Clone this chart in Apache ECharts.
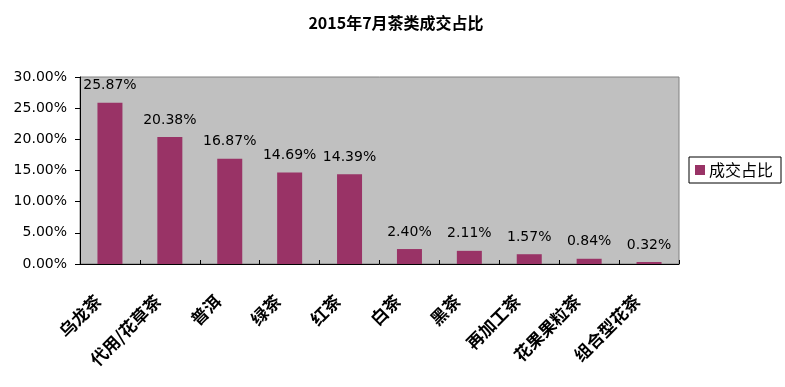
<!DOCTYPE html>
<html><head><meta charset="utf-8">
<script src="https://cdn.jsdelivr.net/npm/echarts@6/dist/echarts.min.js"></script>
<style>html,body{margin:0;padding:0;background:#fff}#c{width:785px;height:387px}</style>
</head><body><div id="c"></div>
<script>
const titleText = '2015年7月茶类成交占比';
const seriesName = '成交占比';
const categories = ['乌龙茶','代用/花草茶','普洱','绿茶','红茶','白茶','黑茶','再加工茶','花果果粒茶','组合型花茶'];
const shares = [25.87, 20.38, 16.87, 14.69, 14.39, 2.40, 2.11, 1.57, 0.84, 0.32];
const yMin = 0, yMax = 30, yStep = 5;

const chart = echarts.init(document.getElementById('c'), null, {renderer:'canvas'});
chart.setOption({
  animation:false,
  backgroundColor:'#ffffff',
  title:{text:titleText,left:391,top:10,textAlign:'center',
    textStyle:{fontFamily:'"Noto Sans CJK SC", sans-serif',fontWeight:'bold',fontSize:16,color:'#000'}},
  legend:{data:[seriesName],left:689,top:157,orient:'vertical',
    padding:[5,8,5,6],borderColor:'#000',borderWidth:1,
    itemWidth:10,itemHeight:10,itemGap:0,icon:'rect',
    textStyle:{fontFamily:'"Noto Sans CJK SC", sans-serif',fontSize:16,color:'#000',padding:[0,0,0,-1]}},
  grid:{left:80,right:106,top:77,bottom:123,show:true,backgroundColor:'#C0C0C0',borderColor:'#808080',borderWidth:1},
  xAxis:{type:'category',data:categories,
    axisLine:{lineStyle:{color:'#000',width:1}},
    axisTick:{show:true,inside:true,length:4,lineStyle:{color:'#000'}},
    axisLabel:{rotate:45,interval:0,margin:22,padding:[0,17,0,0],
      fontFamily:'"Noto Sans CJK SC", sans-serif',fontWeight:'bold',fontSize:17,color:'#000'},
    splitLine:{show:false}},
  yAxis:{type:'value',min:yMin,max:yMax,interval:yStep,
    axisLine:{show:true,lineStyle:{color:'#000',width:1}},
    axisTick:{show:true,length:5,lineStyle:{color:'#000'}},
    axisLabel:{formatter:v=>v.toFixed(2)+'%',margin:13,fontFamily:'"DejaVu Sans", sans-serif',fontSize:14,color:'#000'},
    splitLine:{show:false}},
  series:[{name:seriesName,type:'bar',data:shares,barWidth:25,
    itemStyle:{color:'#993366'},
    label:{show:true,position:'top',distance:10,formatter:p=>p.value.toFixed(2)+'%',
      fontFamily:'"DejaVu Sans", sans-serif',fontSize:14,color:'#000'}}]
});
</script></body></html>
